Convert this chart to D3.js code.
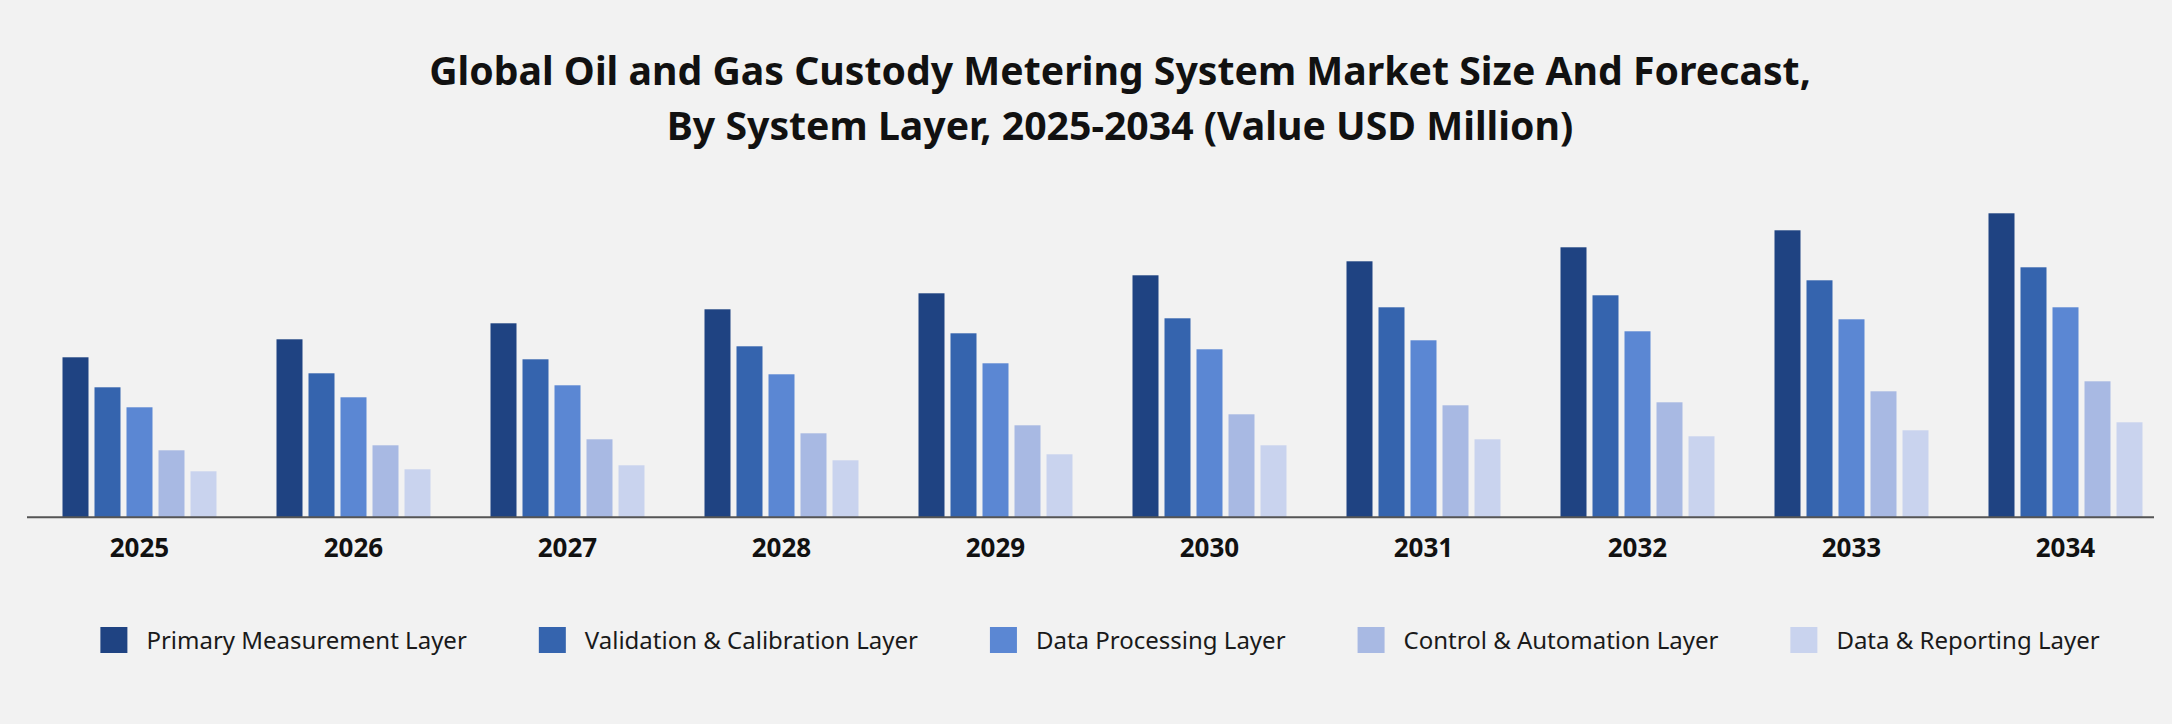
<!DOCTYPE html>
<html>
<head>
<meta charset="utf-8">
<script src="https://cdn.jsdelivr.net/npm/d3@7/dist/d3.min.js"></script>
<style>
  html, body { margin: 0; padding: 0; background: #f2f2f2; }
  svg { display: block; }
</style>
</head>
<body>
<svg id="chart" width="2172" height="724"></svg>
<script>
// ---- data (USD Million) ----
const years = ["2025","2026","2027","2028","2029","2030","2031","2032","2033","2034"];
const seriesNames = [
  "Primary Measurement Layer",
  "Validation & Calibration Layer",
  "Data Processing Layer",
  "Control & Automation Layer",
  "Data & Reporting Layer"
];
const primaryMeasurement   = [160, 178, 194, 208, 224, 242, 256, 270, 287, 304];
const validationCalibration = [130, 144, 158, 171, 184, 199, 210, 222, 237, 250];
const dataProcessing       = [110, 120, 132, 143, 154, 168, 177, 186, 198, 210];
const controlAutomation    = [67, 72, 78, 84, 92, 103, 112, 115, 126, 136];
const dataReporting        = [46, 48, 52, 57, 63, 72, 78, 81, 87, 95];
const seriesValues = [primaryMeasurement, validationCalibration, dataProcessing, controlAutomation, dataReporting];
const colors = ["#1f4382", "#3564ae", "#5b87d3", "#a8b9e3", "#c9d3ee"];
const titleLines = [
  "Global Oil and Gas Custody Metering System Market Size And Forecast,",
  "By System Layer, 2025-2034 (Value USD Million)"
];

// ---- layout ----
const svg = d3.select("#chart");
const W = 2172;
const baseY = 517.3;
const font = "'Noto Sans', 'DejaVu Sans', sans-serif";

svg.append("rect").attr("width", W).attr("height", 724).attr("fill", "#f2f2f2");

// title
const titleX = 1120;
const tl = svg.append("g");
titleLines.forEach((t, i) => {
  tl.append("text")
    .attr("x", titleX).attr("y", 85 + i * 55)
    .attr("text-anchor", "middle")
    .attr("font-family", font)
    .attr("font-weight", 700)
    .attr("font-size", 38)
    .attr("fill", "#111")
    .text(t);
});
{
  const first = tl.select("text").node();
  const w = first.getComputedTextLength();
  let fs = 38 * 1382 / w;
  fs = Math.max(33, Math.min(42, fs));
  tl.selectAll("text").attr("font-size", fs);
}

// scales
const x0 = d3.scaleBand().domain(years).range([32.5, 2172.5]).paddingInner(0).paddingOuter(0);
const groupW = 154;
const x1 = d3.scaleBand().domain(d3.range(seriesNames.length)).range([-groupW / 2, groupW / 2]).paddingInner(0.1875);
const y = d3.scaleLinear().domain([0, 320]).range([baseY, baseY - 320]);

const data = years.map((yr, i) => ({ year: yr, vals: seriesValues.map(s => s[i]) }));

const groups = svg.append("g").selectAll("g").data(data).join("g")
  .attr("transform", d => `translate(${x0(d.year) + x0.bandwidth() / 2},0)`);

groups.selectAll("rect").data(d => d.vals.map((v, k) => ({ v, k }))).join("rect")
  .attr("x", d => x1(d.k))
  .attr("width", x1.bandwidth())
  .attr("y", d => y(d.v))
  .attr("height", d => y(0) - y(d.v))
  .attr("fill", d => colors[d.k]);

// baseline
svg.append("line")
  .attr("x1", 27).attr("x2", 2154)
  .attr("y1", baseY).attr("y2", baseY)
  .attr("stroke", "#555").attr("stroke-width", 2);

// x axis labels
const xAxis = d3.axisBottom(x0).tickSize(0).tickPadding(0);
const ax = svg.append("g").attr("transform", `translate(0,${baseY})`).call(xAxis);
ax.select(".domain").remove();
ax.selectAll("text")
  .attr("y", 39.5).attr("dy", 0)
  .attr("font-family", font)
  .attr("font-weight", 700)
  .attr("font-size", 26)
  .attr("fill", "#111");

// legend
const legend = svg.append("g");
const items = legend.selectAll("g").data(seriesNames).join("g");
items.append("rect").attr("width", 27).attr("height", 26).attr("y", 627).attr("fill", (d, i) => colors[i]);
items.append("text")
  .attr("x", 46).attr("y", 649)
  .attr("font-family", font)
  .attr("font-size", 24)
  .attr("fill", "#1a1a1a")
  .text(d => d);
const widths = [];
items.each(function () { widths.push(46 + d3.select(this).select("text").node().getComputedTextLength()); });
const gap = 72;
const total = d3.sum(widths) + gap * (widths.length - 1);
let cx = 1100 - total / 2;
items.attr("transform", (d, i) => {
  const t = `translate(${cx},0)`;
  cx += widths[i] + gap;
  return t;
});
</script>
</body>
</html>
